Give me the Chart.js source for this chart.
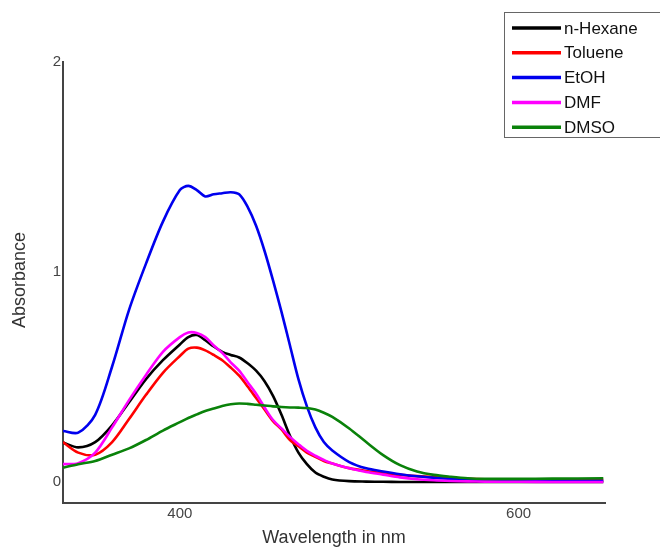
<!DOCTYPE html>
<html>
<head>
<meta charset="utf-8">
<script src="https://cdn.jsdelivr.net/npm/chart.js@4"></script>
<style>
  html, body { margin: 0; padding: 0; background: #fff; }
  #chart { display: block; }
</style>
</head>
<body>
<canvas id="chart" width="660" height="549"></canvas>
<script>
// ===== DATA =====
const wavelengths = [331, 340, 350, 360, 370, 380, 390, 400, 405, 410, 415, 420, 425, 430, 435, 440, 445, 450, 455, 460, 465, 470, 475, 480, 485, 490, 500, 510, 520, 530, 540, 550, 560, 570, 580, 600, 620, 650];

const hexane  = [0.188, 0.165, 0.19, 0.27, 0.38, 0.49, 0.58, 0.655, 0.69, 0.70, 0.675, 0.645, 0.62, 0.605, 0.593, 0.565, 0.53, 0.48, 0.41, 0.32, 0.22, 0.14, 0.085, 0.045, 0.025, 0.012, 0.004, 0.002, 0.001, 0.0, 0.0, 0.0, 0.0, 0.0, 0.0, 0.0, 0.0, 0.0];
const toluene = [0.19, 0.14, 0.13, 0.19, 0.30, 0.415, 0.52, 0.60, 0.635, 0.64, 0.627, 0.605, 0.58, 0.545, 0.506, 0.455, 0.40, 0.345, 0.29, 0.25, 0.20, 0.17, 0.14, 0.12, 0.10, 0.088, 0.066, 0.052, 0.042, 0.034, 0.028, 0.023, 0.018, 0.015, 0.013, 0.011, 0.01, 0.01];
const etoh    = [0.243, 0.235, 0.32, 0.55, 0.82, 1.04, 1.24, 1.39, 1.41, 1.39, 1.36, 1.37, 1.375, 1.38, 1.37, 1.31, 1.22, 1.10, 0.96, 0.81, 0.65, 0.49, 0.36, 0.26, 0.19, 0.15, 0.095, 0.065, 0.05, 0.037, 0.027, 0.02, 0.014, 0.01, 0.008, 0.006, 0.006, 0.006];
const dmf     = [0.085, 0.09, 0.14, 0.26, 0.39, 0.51, 0.62, 0.69, 0.712, 0.71, 0.69, 0.65, 0.615, 0.57, 0.53, 0.475, 0.42, 0.355, 0.295, 0.255, 0.215, 0.18, 0.148, 0.125, 0.105, 0.088, 0.065, 0.048, 0.035, 0.022, 0.013, 0.008, 0.005, 0.003, 0.002, 0.001, 0.0, 0.0];
const dmso    = [0.068, 0.085, 0.10, 0.13, 0.16, 0.20, 0.245, 0.285, 0.305, 0.322, 0.338, 0.35, 0.362, 0.37, 0.374, 0.372, 0.368, 0.364, 0.36, 0.357, 0.355, 0.354, 0.352, 0.345, 0.33, 0.31, 0.255, 0.19, 0.128, 0.08, 0.05, 0.034, 0.025, 0.018, 0.015, 0.015, 0.016, 0.018];

const seriesNames  = ["n-Hexane", "Toluene", "EtOH", "DMF", "DMSO"];
const seriesColors = ["#000000", "#ff0000", "#0000ee", "#ff00ff", "#0a820a"];
const seriesValues = [hexane, toluene, etoh, dmf, dmso];

const xTicks = [400, 600];
const yTicks = [0, 1, 2];

// ===== LEGENDA + TÍTULOS DOS EIXOS =====
const customDraw = {
  id: "customDraw",
  afterDraw(chart) {
    const ctx = chart.ctx;
    const area = chart.chartArea;
    ctx.save();

    // títulos
    ctx.fillStyle = "#333";
    ctx.font = "18px 'Liberation Sans', Arial, sans-serif";
    ctx.textAlign = "center";
    ctx.textBaseline = "middle";
    ctx.fillText("Wavelength in nm", (area.left + area.right) / 2, 538);
    ctx.translate(20, 280);
    ctx.rotate(-Math.PI / 2);
    ctx.fillText("Absorbance", 0, 0);
    ctx.setTransform(1, 0, 0, 1, 0, 0);

    // legenda
    ctx.strokeStyle = "#666";
    ctx.lineWidth = 1;
    ctx.strokeRect(504.5, 12.5, 160, 125);
    ctx.font = "17px 'Liberation Sans', Arial, sans-serif";
    ctx.textAlign = "left";
    chart.data.datasets.forEach((ds, i) => {
      const y = 28 + i * 24.8;
      ctx.strokeStyle = ds.borderColor;
      ctx.lineWidth = 3.5;
      ctx.beginPath();
      ctx.moveTo(512, y);
      ctx.lineTo(561, y);
      ctx.stroke();
      ctx.fillStyle = "#111";
      ctx.fillText(ds.label, 564, y + 1);
    });
    ctx.restore();
  }
};

new Chart(document.getElementById("chart"), {
  type: "line",
  data: {
    labels: wavelengths,
    datasets: seriesNames.map((name, i) => ({
      label: name,
      data: wavelengths.map((w, k) => ({ x: w, y: seriesValues[i][k] })),
      borderColor: seriesColors[i],
      borderWidth: 2.6,
      pointRadius: 0,
      fill: false,
      tension: 0.3,
      order: seriesNames.length - i
    }))
  },
  options: {
    responsive: false,
    animation: false,
    layout: { padding: { top: 62, right: 55, left: 0, bottom: 0 } },
    plugins: {
      legend: { display: false },
      tooltip: { enabled: false }
    },
    scales: {
      x: {
        type: "linear",
        min: 331,
        max: 651,
        grid: { display: false, drawTicks: false },
        border: { display: true, color: "#444", width: 2 },
        afterBuildTicks: s => { s.ticks = xTicks.map(v => ({ value: v })); },
        afterFit: s => { s.height = 46; },
        ticks: {
          padding: 2,
          color: "#444",
          font: { size: 15, family: "'Liberation Sans', Arial, sans-serif" }
        }
      },
      y: {
        min: -0.1,
        max: 2,
        grid: { display: false, drawTicks: false },
        border: { display: true, color: "#444", width: 2 },
        afterBuildTicks: s => { s.ticks = yTicks.map(v => ({ value: v })); },
        afterFit: s => { s.width = 63; },
        ticks: {
          padding: 2,
          color: "#444",
          font: { size: 15, family: "'Liberation Sans', Arial, sans-serif" }
        }
      }
    }
  },
  plugins: [customDraw]
});
</script>
</body>
</html>
